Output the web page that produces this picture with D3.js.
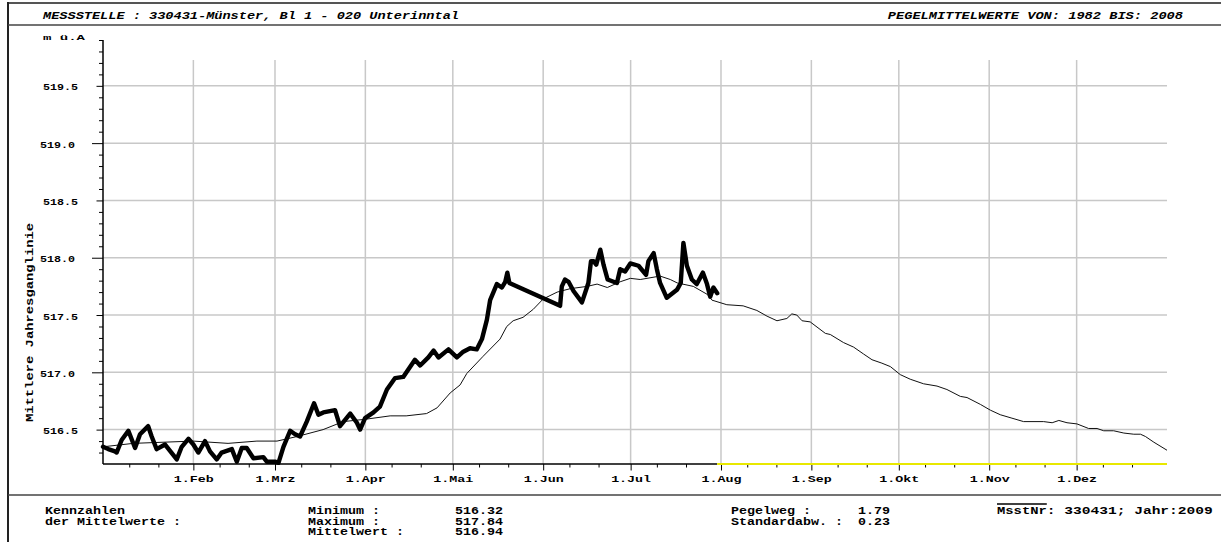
<!DOCTYPE html>
<html>
<head>
<meta charset="utf-8">
<script src="https://cdn.jsdelivr.net/npm/d3@7"></script>
<style>
  body { margin: 0; background: #fff; }
  svg { display: block; }
  text { font-family: "Liberation Mono", "Courier New", monospace; font-weight: bold; fill: #000; }
</style>
</head>
<body>
<svg id="chart" width="1221" height="542"></svg>
<script>
const YEAR = 2009;

// Mittlere Jahresganglinie 1982–2008 (day of year, m ü.A)
const meanDays = [0, 10.4, 30.9, 42.9, 52.8, 59.7, 66.6, 75.5, 82.4, 89.9, 98.5, 104, 111, 114.6, 119.1, 122.5,
  124.8, 130.4, 136.2, 138.5, 140.7, 144.1, 147.6, 151, 155.8, 160.3, 166.1, 169.5, 173, 177.4, 180.9, 184.3,
  191.1, 194.6, 197, 202.5, 207.3, 208.9, 214, 219.6, 224.3, 227.8, 231.2, 234.6, 236.3, 238, 239.8, 242.6,
  247.8, 249.5, 254, 257.5, 260.9, 263.8, 267.2, 270.1, 273.5, 276.9, 281.5, 286.1, 289.5, 294.1, 296.4, 301,
  304.4, 307.8, 311.8, 315.8, 322.7, 325.6, 327.9, 330.7, 334.1, 338.1, 341, 343.3, 346.7, 350.2, 353.6, 355.9,
  357.6, 360.5, 365];
const meanValues = [516.35, 516.38, 516.40, 516.38, 516.40, 516.40, 516.44, 516.50, 516.57, 516.59, 516.62, 516.62,
  516.64, 516.69, 516.82, 516.89, 516.99, 517.14, 517.29, 517.40, 517.45, 517.48, 517.55, 517.64, 517.70, 517.73,
  517.75, 517.77, 517.74, 517.79, 517.82, 517.81, 517.84, 517.81, 517.78, 517.75, 517.68, 517.63, 517.59, 517.58,
  517.54, 517.49, 517.45, 517.47, 517.51, 517.50, 517.45, 517.44, 517.34, 517.33, 517.26, 517.22, 517.16, 517.11,
  517.08, 517.05, 516.98, 516.94, 516.90, 516.88, 516.85, 516.79, 516.78, 516.72, 516.67, 516.63, 516.60, 516.57,
  516.57, 516.56, 516.58, 516.56, 516.55, 516.51, 516.51, 516.49, 516.49, 516.47, 516.46, 516.46, 516.44, 516.39,
  516.32];

// Pegelstand 2009 (day of year, m ü.A)
const levelDays = [0, 1.8, 4.1, 4.7, 6.4, 8.7, 11, 12.7, 15.5, 16.7, 18.4, 21.3, 25.3, 27, 29.3, 31, 32.7, 35,
  36.7, 39, 40.7, 44.2, 45.9, 47.6, 49.3, 51.6, 55, 56.2, 59, 60.2, 61.9, 64.2, 65.9, 67.6, 69.9, 72.4, 73.9,
  75.6, 79.6, 81.3, 84.8, 87.1, 88.2, 89.9, 92.8, 95, 97.4, 100.2, 103, 107, 108.8, 111.6, 113.4, 115.1, 118.5,
  121.4, 123.6, 125.9, 128.2, 130, 131.7, 132.8, 135.1, 136.8, 138, 138.7, 139.4, 156.8, 157.4, 158.5, 159.7,
  161.4, 164.3, 166.5, 167.4, 168.3, 169.2, 170.6, 171.7, 173.1, 176.3, 177.4, 179.1, 180.9, 183.7, 186.3,
  187.1, 188.9, 190, 191.1, 193.4, 196.9, 198.2, 199.1, 200.3, 202, 203.7, 205.8, 207.2, 208.3, 209.4, 210.7];
const levelValues = [516.35, 516.33, 516.31, 516.30, 516.41, 516.49, 516.34, 516.46, 516.53, 516.44, 516.33, 516.37,
  516.24, 516.35, 516.42, 516.37, 516.30, 516.40, 516.31, 516.24, 516.30, 516.33, 516.22, 516.34, 516.34, 516.25,
  516.26, 516.22, 516.22, 516.21, 516.35, 516.49, 516.46, 516.44, 516.57, 516.73, 516.63, 516.65, 516.67, 516.53,
  516.64, 516.56, 516.50, 516.60, 516.65, 516.70, 516.85, 516.95, 516.96, 517.11, 517.06, 517.13, 517.19, 517.13,
  517.20, 517.13, 517.18, 517.21, 517.20, 517.29, 517.46, 517.63, 517.77, 517.74, 517.79, 517.87, 517.78, 517.58,
  517.75, 517.81, 517.79, 517.71, 517.61, 517.78, 517.97, 517.97, 517.94, 518.07, 517.94, 517.81, 517.78, 517.90,
  517.88, 517.95, 517.93, 517.85, 517.97, 518.04, 517.90, 517.78, 517.65, 517.72, 517.78, 518.13, 517.93, 517.81,
  517.77, 517.87, 517.77, 517.66, 517.74, 517.69];

const monthNames = ["Jan", "Feb", "Mrz", "Apr", "Mai", "Jun", "Jul", "Aug", "Sep", "Okt", "Nov", "Dez"];
const yLabelTicks = [516.5, 517.0, 517.5, 518.0, 518.5, 519.0, 519.5];
const yDomain = [516.2, 519.9];

const headerLeft = "MESSSTELLE : 330431-Münster, Bl  1 - 020 Unterinntal";
const headerRight = "PEGELMITTELWERTE VON: 1982 BIS: 2008";
const unitLabel = "m ü.A";
const yTitle = "Mittlere Jahresganglinie";
const statsTitle = ["Kennzahlen", "der Mittelwerte :"];
const statsNames1 = ["Minimum :", "Maximum :", "Mittelwert :"];
const statsValues1 = ["516.32", "517.84", "516.94"];
const statsNames2 = ["Pegelweg :", "Standardabw. :"];
const statsValues2 = ["1.79", "0.23"];
const stationId = "MsstNr";
const stationText = ": 330431;  Jahr:2009";

// ---------- layout ----------
const plot = { left: 103, right: 1167, top: 40, bottom: 464, gridTop: 60 };
const svg = d3.select("#chart");

// fixed-pitch text, glyphs stretched to a given cell width
function mono(sel, charW) {
  sel.each(function () {
    const t = d3.select(this);
    t.attr("textLength", t.text().length * charW).attr("lengthAdjust", "spacingAndGlyphs");
  });
  return sel;
}

const start = new Date(YEAR, 0, 1);
const end = new Date(YEAR + 1, 0, 1);
const dayToDate = d => new Date(start.getTime() + d * 864e5);

const x = d3.scaleTime().domain([start, end]).range([plot.left, plot.right]);
const y = d3.scaleLinear().domain(yDomain).range([plot.bottom, plot.top]);

// ---------- frame ----------
svg.append("line").attr("x1", 8).attr("x2", 1221).attr("y1", 3).attr("y2", 3)
  .attr("stroke", "#555").attr("stroke-width", 2);
svg.append("line").attr("x1", 8).attr("x2", 8).attr("y1", 2).attr("y2", 542)
  .attr("stroke", "#222").attr("stroke-width", 2);
svg.append("line").attr("x1", 8).attr("x2", 1221).attr("y1", 25).attr("y2", 25)
  .attr("stroke", "#444").attr("stroke-width", 1.5);
svg.append("line").attr("x1", 8).attr("x2", 1221).attr("y1", 495).attr("y2", 495)
  .attr("stroke", "#444").attr("stroke-width", 1.5);

svg.append("text").attr("x", 43).attr("y", 19).attr("font-size", 11).attr("font-style", "italic")
  .text(headerLeft).call(mono, 8);
svg.append("text").attr("x", 1183).attr("y", 19).attr("font-size", 11).attr("font-style", "italic")
  .attr("text-anchor", "end").text(headerRight).call(mono, 8.2);

// ---------- grid ----------
const monthStarts = d3.timeMonth.range(d3.timeMonth.offset(start, 1), end);
svg.append("g").selectAll("line").data(monthStarts).join("line")
  .attr("x1", d => x(d)).attr("x2", d => x(d))
  .attr("y1", plot.gridTop).attr("y2", plot.bottom)
  .attr("stroke", "#c8c8c8").attr("stroke-width", 1.5);
svg.append("g").selectAll("line").data(yLabelTicks).join("line")
  .attr("x1", plot.left).attr("x2", plot.right)
  .attr("y1", d => y(d)).attr("y2", d => y(d))
  .attr("stroke", "#c8c8c8").attr("stroke-width", 1.5);

// ---------- y axis ----------
const minorY = d3.range(5163, 5200).map(v => v / 10).filter(v => Math.round(v * 10) % 5 !== 0);
const halfY = yLabelTicks.filter(v => Math.round(v * 10) % 10 !== 0);
const fullY = yLabelTicks.filter(v => Math.round(v * 10) % 10 === 0);

function yAxisLayer(values, size, padding, labels) {
  const g = svg.append("g").attr("transform", `translate(${plot.left},0)`)
    .call(d3.axisLeft(y).tickValues(values).tickSize(size).tickPadding(padding)
      .tickFormat(labels ? d3.format(".1f") : () => ""));
  g.select(".domain").remove();
  g.selectAll(".tick line").attr("stroke", "#000").attr("stroke-width", 1);
  g.selectAll(".tick text").attr("font-size", 9.5).attr("dy", "0.42em").attr("fill", "#000").call(mono, 7);
  return g;
}
yAxisLayer(minorY, 4, 0, false);
yAxisLayer(halfY, 6.5, 18.5, true);
yAxisLayer(fullY, 11, 17, true);
svg.append("line").attr("x1", plot.left).attr("x2", plot.left)
  .attr("y1", plot.top).attr("y2", plot.bottom).attr("stroke", "#000").attr("stroke-width", 1.5);

svg.append("text").attr("x", 43).attr("y", 39.5).attr("font-size", 8).text(unitLabel).call(mono, 8.4);
svg.append("text").attr("transform", "translate(33,322.5) rotate(-90)").attr("text-anchor", "middle")
  .attr("font-size", 10).text(yTitle).call(mono, 8.3);

// ---------- x axis ----------
const dekadTicks = d3.timeDay.range(start, end).filter(d => d.getDate() === 10 || d.getDate() === 20);
const gMinorX = svg.append("g").attr("transform", `translate(0,${plot.bottom})`)
  .call(d3.axisBottom(x).tickValues(dekadTicks).tickSize(3.5).tickFormat(() => ""));
gMinorX.select(".domain").remove();
const gMajorX = svg.append("g").attr("transform", `translate(0,${plot.bottom})`)
  .call(d3.axisBottom(x).tickValues(monthStarts).tickSize(6.5).tickPadding(5)
    .tickFormat(d => "1." + monthNames[d.getMonth()]));
gMajorX.select(".domain").remove();
svg.selectAll(".tick line").attr("stroke", "#000");
gMajorX.selectAll(".tick text").attr("font-size", 9.5).attr("dy", "0.71em").attr("fill", "#000").call(mono, 8);

// axis line: dark while measured, yellow for the remaining part of the year
const lastDay = dayToDate(levelDays[levelDays.length - 1]);
svg.append("line").attr("x1", plot.left).attr("x2", x(lastDay))
  .attr("y1", plot.bottom).attr("y2", plot.bottom).attr("stroke", "#000").attr("stroke-width", 1.5);
svg.append("line").attr("x1", x(lastDay)).attr("x2", plot.right)
  .attr("y1", plot.bottom).attr("y2", plot.bottom).attr("stroke", "#e8e800").attr("stroke-width", 2);

// ---------- curves ----------
const line = d3.line().x(d => x(dayToDate(d[0]))).y(d => y(d[1]));
svg.append("path").datum(d3.zip(meanDays, meanValues))
  .attr("d", line).attr("fill", "none").attr("stroke", "#111").attr("stroke-width", 1);
svg.append("path").datum(d3.zip(levelDays, levelValues))
  .attr("d", line).attr("fill", "none").attr("stroke", "#000").attr("stroke-width", 4.4)
  .attr("stroke-linejoin", "round").attr("stroke-linecap", "round");

// ---------- statistics footer ----------
const rowY = [514, 524.5, 535];
const fw = 8;
const footer = svg.append("g").attr("font-size", 10);
footer.selectAll("text.t").data(statsTitle).join("text").attr("class", "t")
  .attr("x", 45).attr("y", (d, i) => rowY[i]).text(d => d).call(mono, fw);
footer.selectAll("text.n1").data(statsNames1).join("text").attr("class", "n1")
  .attr("x", 308).attr("y", (d, i) => rowY[i]).text(d => d).call(mono, fw);
footer.selectAll("text.v1").data(statsValues1).join("text").attr("class", "v1")
  .attr("x", 455).attr("y", (d, i) => rowY[i]).text(d => d).call(mono, fw);
footer.selectAll("text.n2").data(statsNames2).join("text").attr("class", "n2")
  .attr("x", 731).attr("y", (d, i) => rowY[i]).text(d => d).call(mono, fw);
footer.selectAll("text.v2").data(statsValues2).join("text").attr("class", "v2")
  .attr("x", 858).attr("y", (d, i) => rowY[i]).text(d => d).call(mono, fw);

const idX = 997;
const idW = 8.3;
footer.append("text").attr("x", idX).attr("y", rowY[0]).text(stationId).call(mono, idW);
footer.append("text").attr("x", idX + stationId.length * idW).attr("y", rowY[0]).text(stationText).call(mono, idW);
footer.append("line").attr("x1", idX).attr("x2", idX + stationId.length * idW)
  .attr("y1", rowY[0] - 10).attr("y2", rowY[0] - 10).attr("stroke", "#000").attr("stroke-width", 1.5);
</script>
</body>
</html>
